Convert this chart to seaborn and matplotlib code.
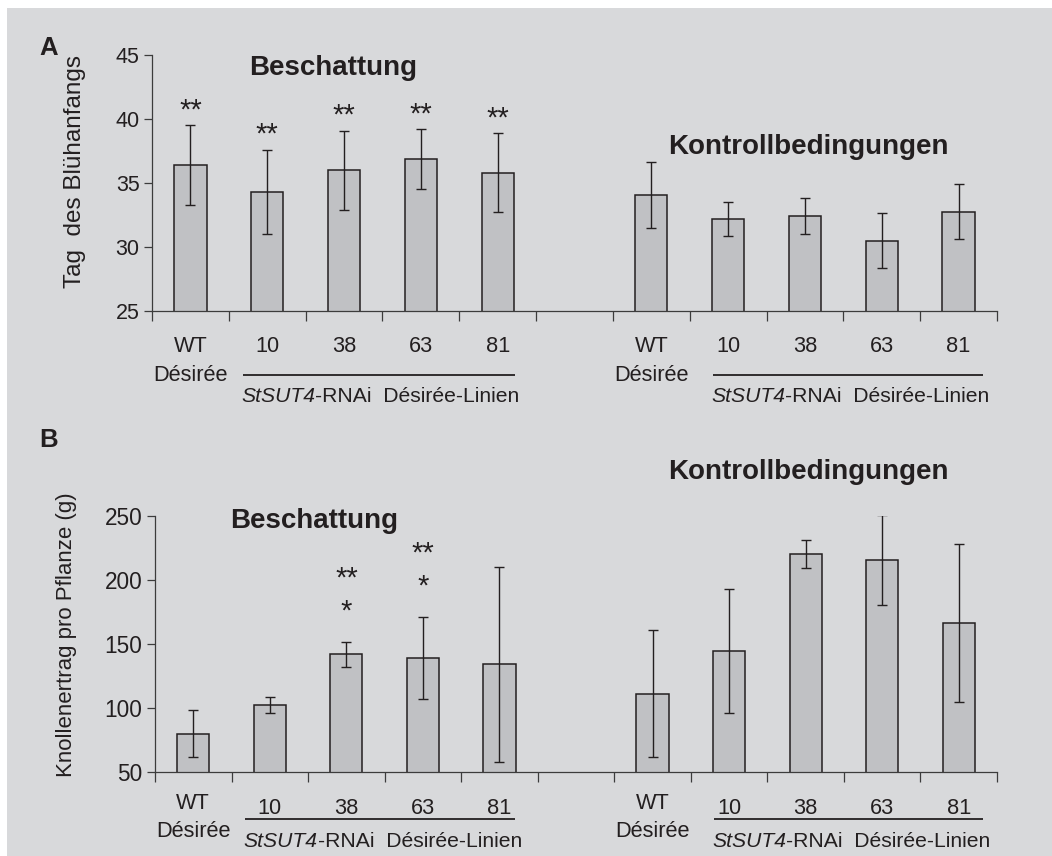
import numpy as np
import pandas as pd
import matplotlib
matplotlib.use("Agg")
import matplotlib.pyplot as plt
from matplotlib.patches import Rectangle
from matplotlib.transforms import offset_copy
import seaborn as sns

# ---- data -------------------------------------------------------------
lines = ["WT", "10", "38", "63", "81"]

bloom_shade = [36.4, 34.3, 36.0, 36.85, 35.8]
bloom_shade_sd = [3.1, 3.3, 3.1, 2.35, 3.1]
bloom_ctrl = [34.05, 32.2, 32.45, 30.5, 32.75]
bloom_ctrl_sd = [2.6, 1.35, 1.4, 2.15, 2.15]

yield_shade = [80.0, 102.5, 142.0, 139.0, 134.0]
yield_shade_sd = [18.5, 6.3, 9.7, 32.0, 76.0]
yield_ctrl = [111.0, 144.5, 220.0, 215.5, 166.5]
yield_ctrl_sd = [49.5, 48.5, 10.7, 34.8, 61.8]

bloom_stars = ["**", "**", "**", "**", "**"]
yield_stars_upper = ["", "", "**", "**", ""]
yield_stars_lower = ["", "", "*", "*", ""]

ylabel_a = "Tag  des Blühanfangs"
ylabel_b = "Knollenertrag pro Pflanze (g)"
title_shade = "Beschattung"
title_ctrl = "Kontrollbedingungen"
wt_sub = "Désirée"
construct = "StSUT4"
construct_rest = "-RNAi  Désirée-Linien"

# ---- style ------------------------------------------------------------
sns.set_theme(style="ticks")
plt.rcParams["font.family"] = ["Liberation Sans", "DejaVu Sans"]

BG = "#d8d9db"
BAR = "#c0c1c4"
INK = "#231f20"
AXIS = "#3c3c3c"
LABEL_SIZE = 15.7
GROUP_SIZE = 15.2

W, H = 1052, 856
fig = plt.figure(figsize=(W / 100, H / 100), dpi=100, facecolor="white")
fig.patches.append(Rectangle((7 / W, 0), 1 - 7 / W, 1 - 8 / H,
                             transform=fig.transFigure, facecolor=BG,
                             edgecolor="none", zorder=-10))

order = [f"S {l}" for l in lines] + ["gap"] + [f"K {l}" for l in lines]


def frame(shade, shade_sd, ctrl, ctrl_sd):
    return pd.DataFrame({
        "slot": [f"S {l}" for l in lines] + [f"K {l}" for l in lines],
        "value": list(shade) + list(ctrl),
        "sd": list(shade_sd) + list(ctrl_sd),
    })


def fig_px(x, y):
    return x / W, 1 - y / H


def axes_px(left, top, right, bottom):
    return fig.add_axes([left / W, 1 - bottom / H, (right - left) / W,
                         (bottom - top) / H])


def below_axis(ax, dy):
    """x in data units, y = axis line shifted down by dy pixels."""
    return offset_copy(ax.get_xaxis_transform(), fig=fig, x=0, y=-dy,
                       units="dots")


def draw_panel(ax, df, ylim, yticks, ytick_size, rows, rule_spans):
    sns.barplot(data=df, x="slot", y="value", order=order, width=0.42,
                color=BAR, saturation=1, edgecolor=INK, linewidth=1.1,
                errorbar=None, ax=ax)
    xs = [order.index(s) for s in df["slot"]]
    ax.errorbar(xs, df["value"], yerr=df["sd"], fmt="none", ecolor=INK,
                elinewidth=1.0, capsize=3.8, capthick=1.0, zorder=5)
    ax.set_facecolor("none")
    ax.set_xlim(-0.5, len(order) - 0.5)
    ax.set_ylim(*ylim)
    ax.set_yticks(yticks)
    ax.set_xticks(np.arange(-0.5, len(order), 1.0))
    ax.set_xticklabels([])
    ax.set_xlabel("")
    sns.despine(ax=ax)
    for sp in ("left", "bottom"):
        ax.spines[sp].set_color(AXIS)
        ax.spines[sp].set_linewidth(0.9)
    ax.tick_params(axis="x", length=7, width=0.9, color=AXIS, direction="out")
    ax.tick_params(axis="y", length=6, width=0.9, color=AXIS, direction="out",
                   labelsize=ytick_size, labelcolor=INK, pad=3)

    wt_dy, num_dy, sub_dy, rule_dy, grp_dy = rows
    for start, (r0, r1) in zip((0, 6), rule_spans):
        for k, lab in enumerate(lines):
            dy = wt_dy if k == 0 else num_dy
            ax.text(start + k, 0, lab, transform=below_axis(ax, dy),
                    ha="center", va="baseline", fontsize=LABEL_SIZE,
                    color=INK)
        ax.text(start, 0, wt_sub, transform=below_axis(ax, sub_dy),
                ha="center", va="baseline", fontsize=LABEL_SIZE, color=INK)
        x0, x1 = start + r0, start + r1
        ax.plot([x0, x1], [0, 0], transform=below_axis(ax, rule_dy),
                color=INK, lw=1.3, clip_on=False, solid_capstyle="butt")
        it = ax.text(x0 - 0.02, 0, construct, transform=below_axis(ax, grp_dy),
                     ha="left", va="baseline", fontsize=GROUP_SIZE, color=INK,
                     style="italic")
        ax.annotate(construct_rest, xy=(1, 0), xycoords=it,
                    ha="left", va="bottom", fontsize=GROUP_SIZE, color=INK)
    return xs


# ---- panel A: onset of flowering --------------------------------------
dfa = frame(bloom_shade, bloom_shade_sd, bloom_ctrl, bloom_ctrl_sd)
ax_a = axes_px(152, 55, 997, 311)
draw_panel(ax_a, dfa, (25, 45), [25, 30, 35, 40, 45], 15.5,
           (41, 41, 70, 64, 91), [(0.68, 4.22), (0.80, 4.32)])
ax_a.set_ylabel(ylabel_a, fontsize=17.5, color=INK)
ax_a.yaxis.label.set_va("center")
ax_a.yaxis.set_label_coords((75 - 152) / 845, (311 - 172) / 256)
for k, s in enumerate(bloom_stars):
    top = bloom_shade[k] + bloom_shade_sd[k]
    ax_a.annotate(s, (k, top), xytext=(0, 7), textcoords="offset pixels",
                  ha="center", va="baseline", fontsize=21, color=INK)

# ---- panel B: tuber yield ---------------------------------------------
dfb = frame(yield_shade, yield_shade_sd, yield_ctrl, yield_ctrl_sd)
ax_b = axes_px(155, 515.7, 997, 772)
draw_panel(ax_b, dfb, (50, 250), [50, 100, 150, 200, 250], 16.3,
           (37, 42, 65, 47, 75), [(0.68, 4.20), (0.80, 4.32)])
ax_b.set_ylabel(ylabel_b, fontsize=16, color=INK)
ax_b.yaxis.label.set_va("center")
ax_b.yaxis.set_label_coords((67 - 155) / 842, (772 - 635) / 256.3)
for k, (up, lo) in enumerate(zip(yield_stars_upper, yield_stars_lower)):
    top = yield_shade[k] + yield_shade_sd[k]
    if up:
        ax_b.annotate(up, (k, top), xytext=(0, 55), textcoords="offset pixels",
                      ha="center", va="baseline", fontsize=21, color=INK)
    if lo:
        ax_b.annotate(lo, (k, top), xytext=(0, 22), textcoords="offset pixels",
                      ha="center", va="baseline", fontsize=21, color=INK)

# ---- panel letters and condition titles -------------------------------
bold = dict(fontweight="bold", color=INK, va="baseline")
fig.text(*fig_px(39, 55), "A", ha="left", fontsize=18.5, **bold)
fig.text(*fig_px(39, 447), "B", ha="left", fontsize=18.5, **bold)
fig.text(*fig_px(333, 75), title_shade, ha="center", fontsize=20, **bold)
fig.text(*fig_px(808, 154), title_ctrl, ha="center", fontsize=20, **bold)
fig.text(*fig_px(314, 528), title_shade, ha="center", fontsize=20, **bold)
fig.text(*fig_px(808, 479), title_ctrl, ha="center", fontsize=20, **bold)

fig.savefig("out.png", dpi=100, facecolor=fig.get_facecolor())
